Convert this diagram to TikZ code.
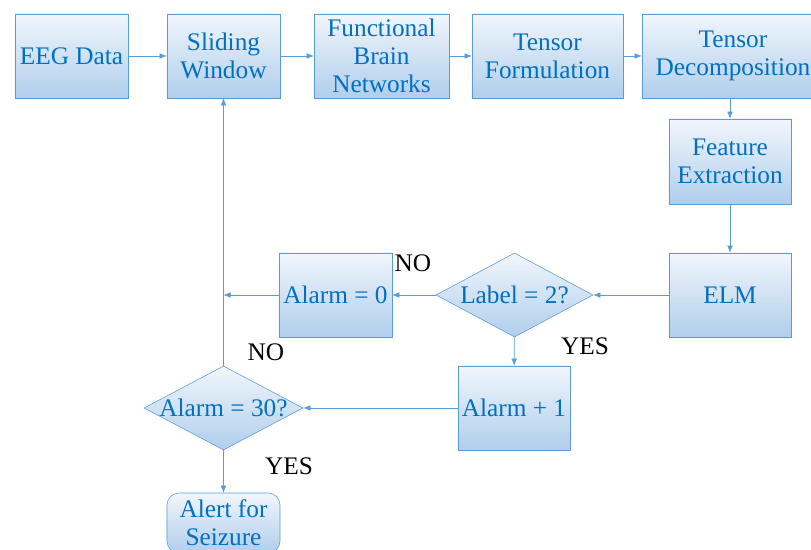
\documentclass[tikz,border=0pt]{standalone}
\usepackage{fontspec}
\setmainfont{Liberation Serif}
\usepackage{tikz}
\usetikzlibrary{arrows.meta,shapes.geometric}
\definecolor{boxline}{RGB}{91,155,213}
\definecolor{boxtext}{RGB}{0,112,192}
\definecolor{shadetop}{RGB}{241,246,252}
\definecolor{shadebot}{RGB}{176,206,236}

\begin{document}
\begin{tikzpicture}[x=0.025cm,y=-0.025cm,
  blk/.style={draw=boxline,top color=shadetop,bottom color=shadebot,
    text=boxtext,align=center,inner sep=0pt,
    minimum width=2.825cm,minimum height=2.1cm,
    font=\fontsize{18}{20}\selectfont},
  dec/.style={blk,diamond,aspect=1.87},
  arr/.style={draw=boxline,-{Latex[length=5pt,width=4pt]}},
  lbl/.style={font=\fontsize{18}{20}\selectfont,inner sep=0pt}]
  \useasboundingbox (0,0) rectangle (811,550);
  % top row
  \node[blk] (eeg) at (71.5,56) {EEG Data};
  \node[blk] (slide) at (223.5,56) {Sliding\\Window};
  \node[blk,minimum width=3.375cm] (fbn) at (381.5,56) {Functional\\Brain\\Networks};
  \node[blk,minimum width=3.775cm] (tform) at (547.5,56) {Tensor\\Formulation};
  \node[blk,minimum width=4.55cm] (tdec) at (733,56) {Tensor\\Decomposition};
  % right column
  \node[blk,minimum width=3.05cm,minimum height=2.125cm] (feat) at (730,161.5) {Feature\\Extraction};
  \node[blk,minimum width=3.05cm] (elm) at (730,295) {ELM};
  % decisions
  \node[dec,minimum width=3.925cm] (lab) at (514.5,295) {\makebox[0pt]{Label = 2?}};
  \node[blk] (azero) at (335.5,295) {Alarm = 0};
  \node[blk,minimum width=2.8cm] (aplus) at (514,408) {Alarm + 1};
  \node[dec,minimum width=3.975cm] (athirty) at (223.5,408) {\makebox[0pt]{Alarm = 30?}};
  \node[blk,rounded corners=0.3cm,minimum height=1.5cm] (alert) at (223.5,523) {Alert for\\Seizure};
  \coordinate (join) at (223.5,295);

  \draw[arr] (eeg) -- (slide);
  \draw[arr] (slide) -- (fbn);
  \draw[arr] (fbn) -- (tform);
  \draw[arr] (tform) -- (tdec);
  \draw[arr] (tdec.south -| feat) -- (feat);
  \draw[arr] (feat) -- (elm);
  \draw[arr] (elm) -- (lab);
  \draw[arr] (lab) -- (azero);
  \draw[arr] (azero) -- (join);
  \draw[arr] (lab) -- (aplus);
  \draw[arr] (aplus) -- (athirty);
  \draw[arr] (athirty.north) -- (slide.south);
  \draw[arr] (athirty) -- (alert);

  \node[lbl] (no1) at (413,263) {NO};
  \node[lbl] (yes1) at (585,346) {YES};
  \node[lbl] (no2) at (266,352) {NO};
  \node[lbl] (yes2) at (289,466) {YES};
\end{tikzpicture}
\end{document}
